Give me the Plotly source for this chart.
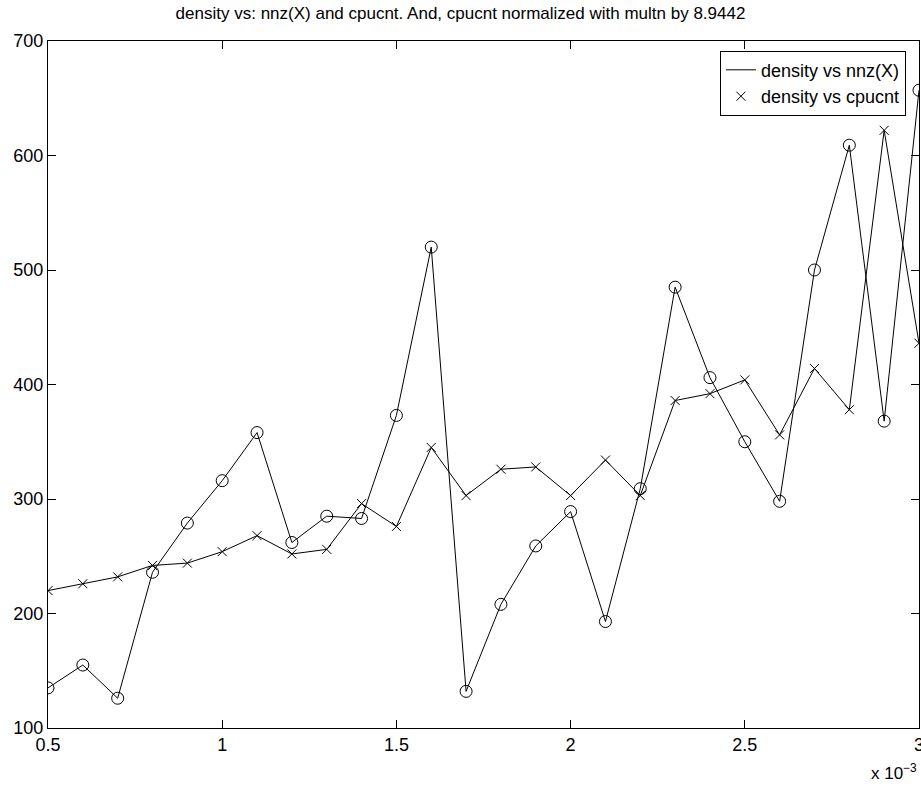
import plotly.graph_objects as go

# density values (units of 1e-3)
density = [0.5, 0.6, 0.7, 0.8, 0.9, 1.0, 1.1, 1.2, 1.3, 1.4, 1.5, 1.6, 1.7,
           1.8, 1.9, 2.0, 2.1, 2.2, 2.3, 2.4, 2.5, 2.6, 2.7, 2.8, 2.9, 3.0]

nnz_x = [135, 155, 126, 236, 279, 316, 358, 262, 285, 283, 373, 520, 132,
         208, 259, 289, 193, 309, 485, 406, 350, 298, 500, 609, 368, 657]

cpucnt = [220, 226, 232, 242, 244, 254, 268, 252, 256, 296, 276, 345, 303,
          326, 328, 303, 334, 303, 386, 392, 404, 356, 414, 378, 622, 436]

x_tickvals = [0.5, 1, 1.5, 2, 2.5, 3]
x_ticktext = ["0.5", "1", "1.5", "2", "2.5", "3"]
y_tickvals = [100, 200, 300, 400, 500, 600, 700]

FONT = "Liberation Sans, Arial, Helvetica, sans-serif"

fig = go.Figure()
fig.add_trace(go.Scatter(x=density, y=nnz_x, mode="lines",
                         line=dict(color="black", width=1),
                         name="density vs nnz(X)"))
fig.add_trace(go.Scatter(x=density, y=cpucnt, mode="markers",
                         marker=dict(symbol="x-thin-open", size=9, color="black",
                                     line=dict(color="black", width=1)),
                         name="density vs cpucnt"))
fig.add_trace(go.Scatter(x=density, y=nnz_x, mode="markers",
                         marker=dict(symbol="circle-open", size=12, color="black",
                                     line=dict(color="black", width=1)),
                         showlegend=False))
fig.add_trace(go.Scatter(x=density, y=cpucnt, mode="lines",
                         line=dict(color="black", width=1),
                         showlegend=False))

axis_common = dict(showline=True, linecolor="black", linewidth=1, mirror="ticks",
                   ticks="inside", ticklen=8, tickcolor="black", tickwidth=1,
                   showgrid=False, zeroline=False, ticklabeloverflow="allow",
                   automargin=False,
                   tickfont=dict(family=FONT, size=18, color="black"))

fig.update_xaxes(range=[0.5, 3], tickvals=x_tickvals, ticktext=x_ticktext, **axis_common)
fig.update_yaxes(range=[100, 700], tickvals=y_tickvals, **axis_common)

fig.update_layout(
    width=921, height=788,
    margin=dict(l=48, r=2, t=41, b=60, autoexpand=False),
    paper_bgcolor="white", plot_bgcolor="white",
    title=dict(text="density vs: nnz(X) and cpucnt. And, cpucnt normalized with multn by 8.9442",
               x=0.5, xref="container", xanchor="center", y=1 - 13 / 788, yanchor="middle",
               font=dict(family=FONT, size=17, color="black")),
    legend=dict(x=0.985, y=0.986, xanchor="right", yanchor="top",
                bgcolor="white", bordercolor="black", borderwidth=1,
                font=dict(family=FONT, size=18, color="black"),
                tracegroupgap=0),
    showlegend=True,
    annotations=[dict(text="x 10<sup>\u22123</sup>", xref="paper", yref="paper",
                      x=1.0, y=-0.045, xanchor="right", yanchor="top", showarrow=False,
                      font=dict(family=FONT, size=17, color="black"))],
)

fig.write_html("out.html", config={"displayModeBar": False},
               post_script="document.body.style.margin='0';document.body.style.overflow='hidden';")
